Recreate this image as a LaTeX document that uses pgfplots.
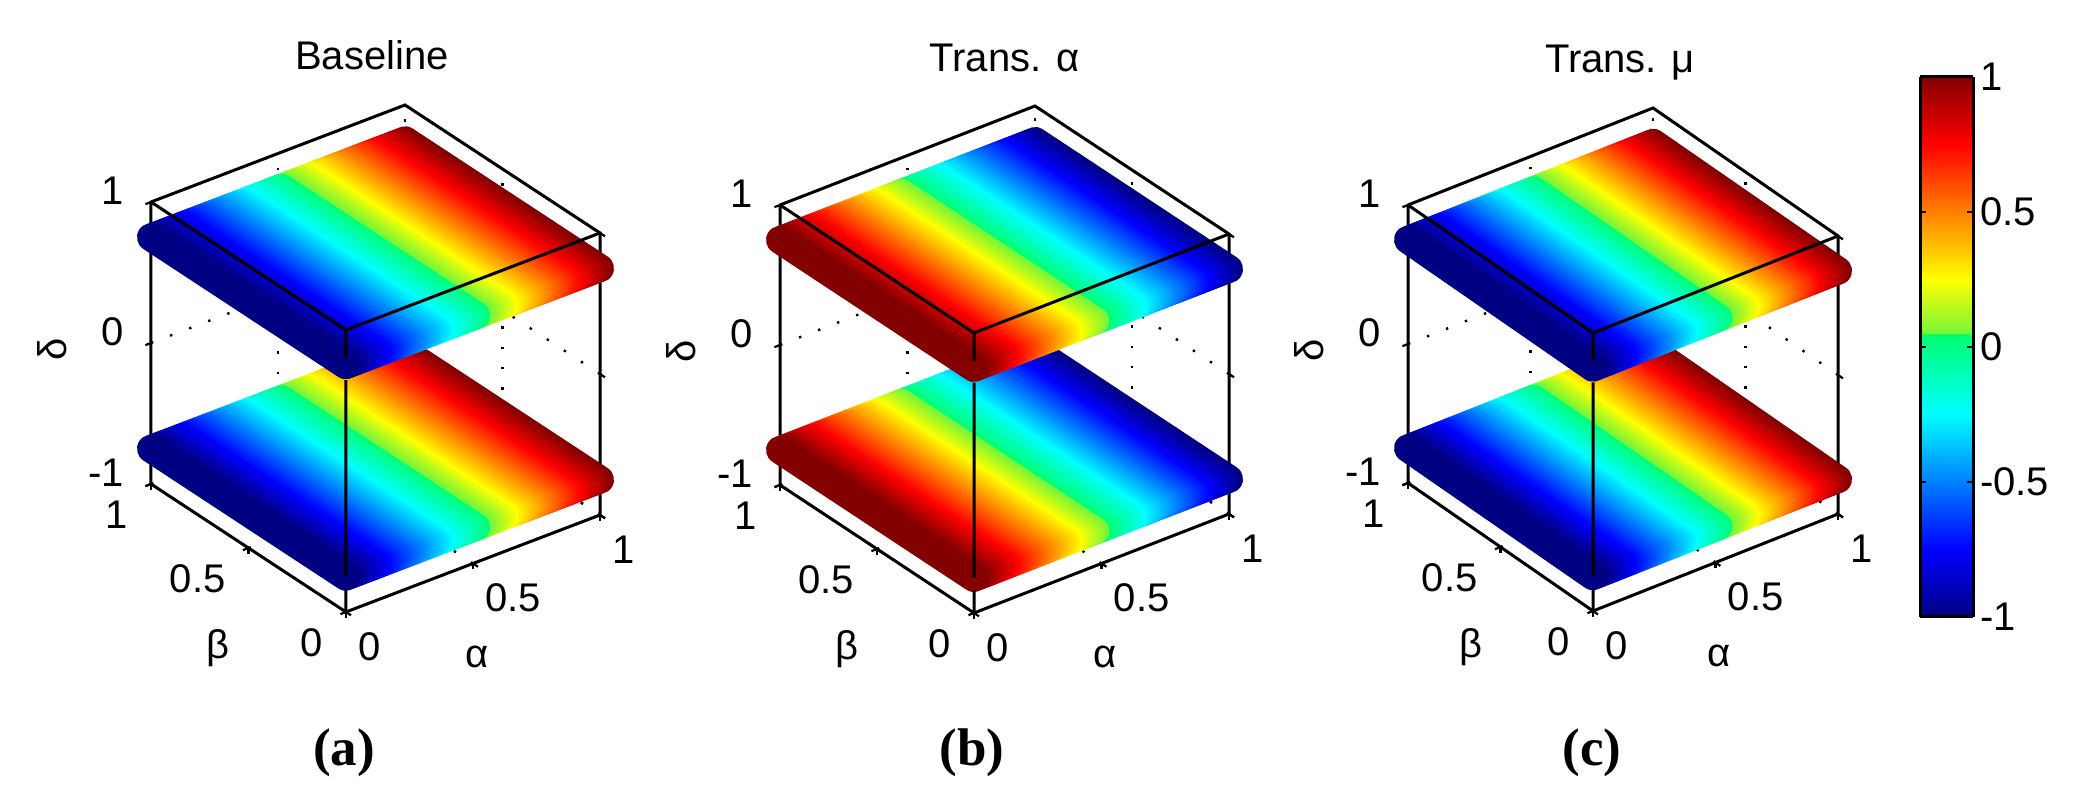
\documentclass[border=0pt]{standalone}
\usepackage{pgfplots}
\usepackage{pgfplotstable}
\usepackage{fontspec}
\pgfplotsset{compat=1.18}
\setmainfont{Liberation Sans}
\newfontfamily\capfont{Liberation Serif}
\pgfplotstableread{
a b ca cb
1.0000 0 1.000 -1.000
1.0000 1 1.000 -1.000
0.9875 0 0.975 -0.975
0.9875 1 0.975 -0.975
0.9750 0 0.950 -0.950
0.9750 1 0.950 -0.950
0.9625 0 0.925 -0.925
0.9625 1 0.925 -0.925
0.9500 0 0.900 -0.900
0.9500 1 0.900 -0.900
0.9375 0 0.875 -0.875
0.9375 1 0.875 -0.875
0.9250 0 0.850 -0.850
0.9250 1 0.850 -0.850
0.9125 0 0.825 -0.825
0.9125 1 0.825 -0.825
0.9000 0 0.800 -0.800
0.9000 1 0.800 -0.800
0.8875 0 0.775 -0.775
0.8875 1 0.775 -0.775
0.8750 0 0.750 -0.750
0.8750 1 0.750 -0.750
0.8625 0 0.725 -0.725
0.8625 1 0.725 -0.725
0.8500 0 0.700 -0.700
0.8500 1 0.700 -0.700
0.8375 0 0.675 -0.675
0.8375 1 0.675 -0.675
0.8250 0 0.650 -0.650
0.8250 1 0.650 -0.650
0.8125 0 0.625 -0.625
0.8125 1 0.625 -0.625
0.8000 0 0.600 -0.600
0.8000 1 0.600 -0.600
0.7875 0 0.575 -0.575
0.7875 1 0.575 -0.575
0.7750 0 0.550 -0.550
0.7750 1 0.550 -0.550
0.7625 0 0.525 -0.525
0.7625 1 0.525 -0.525
0.7500 0 0.500 -0.500
0.7500 1 0.500 -0.500
0.7375 0 0.475 -0.475
0.7375 1 0.475 -0.475
0.7250 0 0.450 -0.450
0.7250 1 0.450 -0.450
0.7125 0 0.425 -0.425
0.7125 1 0.425 -0.425
0.7000 0 0.400 -0.400
0.7000 1 0.400 -0.400
0.6875 0 0.375 -0.375
0.6875 1 0.375 -0.375
0.6750 0 0.350 -0.350
0.6750 1 0.350 -0.350
0.6625 0 0.325 -0.325
0.6625 1 0.325 -0.325
0.6500 0 0.300 -0.300
0.6500 1 0.300 -0.300
0.6375 0 0.275 -0.275
0.6375 1 0.275 -0.275
0.6250 0 0.250 -0.250
0.6250 1 0.250 -0.250
0.6125 0 0.225 -0.225
0.6125 1 0.225 -0.225
0.6000 0 0.200 -0.200
0.6000 1 0.200 -0.200
0.5875 0 0.175 -0.175
0.5875 1 0.175 -0.175
0.5750 0 0.150 -0.150
0.5750 1 0.150 -0.150
0.5625 0 0.125 -0.125
0.5625 1 0.125 -0.125
0.5500 0 0.100 -0.100
0.5500 1 0.100 -0.100
0.5375 0 0.075 -0.075
0.5375 1 0.075 -0.075
0.5250 0 0.050 -0.050
0.5250 1 0.050 -0.050
0.5125 0 0.025 -0.025
0.5125 1 0.025 -0.025
0.5000 0 0.000 0.000
0.5000 1 0.000 0.000
0.4875 0 -0.025 0.025
0.4875 1 -0.025 0.025
0.4750 0 -0.050 0.050
0.4750 1 -0.050 0.050
0.4625 0 -0.075 0.075
0.4625 1 -0.075 0.075
0.4500 0 -0.100 0.100
0.4500 1 -0.100 0.100
0.4375 0 -0.125 0.125
0.4375 1 -0.125 0.125
0.4250 0 -0.150 0.150
0.4250 1 -0.150 0.150
0.4125 0 -0.175 0.175
0.4125 1 -0.175 0.175
0.4000 0 -0.200 0.200
0.4000 1 -0.200 0.200
0.3875 0 -0.225 0.225
0.3875 1 -0.225 0.225
0.3750 0 -0.250 0.250
0.3750 1 -0.250 0.250
0.3625 0 -0.275 0.275
0.3625 1 -0.275 0.275
0.3500 0 -0.300 0.300
0.3500 1 -0.300 0.300
0.3375 0 -0.325 0.325
0.3375 1 -0.325 0.325
0.3250 0 -0.350 0.350
0.3250 1 -0.350 0.350
0.3125 0 -0.375 0.375
0.3125 1 -0.375 0.375
0.3000 0 -0.400 0.400
0.3000 1 -0.400 0.400
0.2875 0 -0.425 0.425
0.2875 1 -0.425 0.425
0.2750 0 -0.450 0.450
0.2750 1 -0.450 0.450
0.2625 0 -0.475 0.475
0.2625 1 -0.475 0.475
0.2500 0 -0.500 0.500
0.2500 1 -0.500 0.500
0.2375 0 -0.525 0.525
0.2375 1 -0.525 0.525
0.2250 0 -0.550 0.550
0.2250 1 -0.550 0.550
0.2125 0 -0.575 0.575
0.2125 1 -0.575 0.575
0.2000 0 -0.600 0.600
0.2000 1 -0.600 0.600
0.1875 0 -0.625 0.625
0.1875 1 -0.625 0.625
0.1750 0 -0.650 0.650
0.1750 1 -0.650 0.650
0.1625 0 -0.675 0.675
0.1625 1 -0.675 0.675
0.1500 0 -0.700 0.700
0.1500 1 -0.700 0.700
0.1375 0 -0.725 0.725
0.1375 1 -0.725 0.725
0.1250 0 -0.750 0.750
0.1250 1 -0.750 0.750
0.1125 0 -0.775 0.775
0.1125 1 -0.775 0.775
0.1000 0 -0.800 0.800
0.1000 1 -0.800 0.800
0.0875 0 -0.825 0.825
0.0875 1 -0.825 0.825
0.0750 0 -0.850 0.850
0.0750 1 -0.850 0.850
0.0625 0 -0.875 0.875
0.0625 1 -0.875 0.875
0.0500 0 -0.900 0.900
0.0500 1 -0.900 0.900
0.0375 0 -0.925 0.925
0.0375 1 -0.925 0.925
0.0250 0 -0.950 0.950
0.0250 1 -0.950 0.950
0.0125 0 -0.975 0.975
0.0125 1 -0.975 0.975
0.0000 0 -1.000 1.000
0.0000 1 -1.000 1.000
}\platedata
\pgfplotsset{
  colormap={jetx}{rgb255(0)=(0,0,130) rgb255(125)=(0,0,255) rgb255(375)=(0,255,255)
    rgb255(524)=(0,255,110) rgb255(525)=(120,245,55) rgb255(625)=(255,255,0)
    rgb255(875)=(255,0,0) rgb255(1000)=(130,0,0)},
  plate/.style={patch,patch type=line,shader=flat,z buffer=none,
    line width=14pt,line cap=round,point meta=explicit},
  boxl/.style={black,line width=1.5pt,no markers,unbounded coords=jump},
  panel/.style={anchor=origin,clip=false,
    xmin=0,xmax=1,ymin=0,ymax=1,zmin=-1,zmax=1,
    point meta min=-1,point meta max=1,colormap name=jetx,
    xtick={0,0.5,1},ytick={0,0.5,1},ztick={-1,0,1},
    xticklabels={0,0.5,1},yticklabels={0,0.5,1},zticklabels={-1,0,1},
    tick pos=left,tick align=outside,major tick length=3pt,
    tick style={black,line width=1.1pt},
    axis line style={draw=none},
    grid=major,grid style={black,line width=1.2pt,dash pattern=on 1.2pt off 9pt},
    tick label style={font=\fontsize{20}{20}\selectfont,inner sep=0pt},
    label style={font=\fontsize{20}{20}\selectfont},
    xticklabel style={anchor=west,xshift=3.5pt,yshift=-15.5pt},
    yticklabel style={anchor=east,xshift=-8.5pt,yshift=-14.5pt},
    zticklabel style={anchor=east,xshift=-11pt,yshift=4pt},
    xlabel={α},ylabel={β},zlabel={δ},
    xlabel style={at={(axis cs:0.5,0,-1)},anchor=center,xshift=2pt,yshift=-46.75pt,rotate=0},
    ylabel style={at={(axis cs:0,0.5,-1)},anchor=center,xshift=-15pt,yshift=-50pt,rotate=0},
    zlabel style={at={(axis cs:0,1,0)},anchor=center,xshift=-3pt,yshift=49.5pt,rotate=0},
    title style={at={(axis cs:0.5,0.5,1)},anchor=base,yshift=68pt,font=\fontsize{20}{22}\selectfont},
  },
}
\newcommand{\platesandbox}[1]{
  \addplot3[boxl] coordinates {(0,1,1)(0,1,-1)(0,0,-1)(1,0,-1)(1,0,1)(1,1,1)(0,1,1)};
  \addplot3[plate] table[x=a,y=b,z expr=-0.75,meta=#1]{\platedata};
  \addplot3[plate] table[x=a,y=b,z expr=0.75,meta=#1]{\platedata};
  \addplot3[boxl] coordinates {(1,0,1)(0,0,1)(0,1,1)
    (nan,nan,nan)(0,0,1)(0,0,0.8)
    (nan,nan,nan)(0,0,0.645)(0,0,-0.745)
    (nan,nan,nan)(0,0,-0.84)(0,0,-1)};
}
\begin{document}
\begin{tikzpicture}
\useasboundingbox (0,0) rectangle (1036.5pt,401.5pt);
\begin{axis}[panel,at={(173pt,166pt)},
  x={(127pt,48.5pt)},y={(-97.5pt,64pt)},z={(0pt,70.5pt)},title={Baseline},title style={xshift=-1.75pt}]
\platesandbox{ca}
\end{axis}
\begin{axis}[panel,at={(487pt,165pt)},
  x={(127.5pt,49.5pt)},y={(-97pt,64pt)},z={(0pt,70pt)},title={Trans. α}]
\platesandbox{cb}
\end{axis}
\begin{axis}[panel,at={(796.5pt,165.5pt)},
  x={(122.5pt,48.5pt)},y={(-92.5pt,64pt)},z={(0pt,69.5pt)},title={Trans. μ},title style={xshift=-1.5pt}]
\platesandbox{ca}
\end{axis}
\begin{axis}[at={(960pt,93pt)},anchor=south west,scale only axis,width=26.5pt,height=270pt,
  view={0}{90},
  xmin=0,xmax=1,ymin=-1,ymax=1,xtick=\empty,ytick={-1,-0.5,0,0.5,1},
  yticklabels={-1,-0.5,0,0.5,1},ytick pos=both,yticklabel pos=right,
  tick align=inside,major tick length=3pt,tick style={black,line width=1.2pt},
  axis line style={black,line width=1.5pt},axis on top,
  colormap name=jetx,point meta min=-1,point meta max=1,
  tick label style={font=\fontsize{20}{22}\selectfont}]
\addplot3[surf,shader=interp,mesh/rows=2,point meta=\thisrow{c}] table {
x y z c
0 -1 0 -1
1 -1 0 -1
0 1 0 1
1 1 0 1
};
\end{axis}
\node[font=\capfont\bfseries\fontsize{26.5}{28}\selectfont] at (172pt,25pt) {(a)};
\node[font=\capfont\bfseries\fontsize{26.5}{28}\selectfont] at (486pt,25pt) {(b)};
\node[font=\capfont\bfseries\fontsize{26.5}{28}\selectfont] at (796pt,25pt) {(c)};
\end{tikzpicture}
\end{document}
